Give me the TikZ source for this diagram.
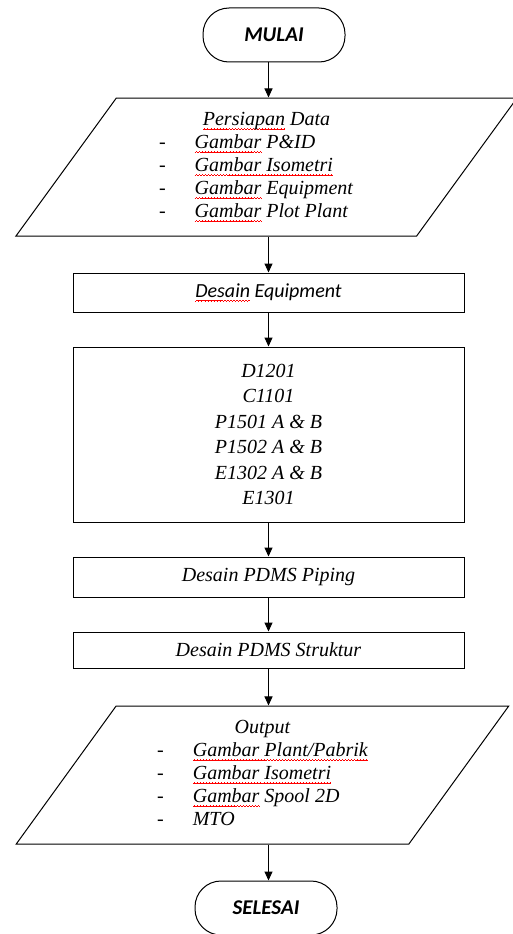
\documentclass[tikz,border=0pt]{standalone}
\usepackage{fontspec}
\setmainfont{Liberation Serif}
\newfontfamily\calibri{Carlito}
\usetikzlibrary{shapes.geometric,arrows.meta}

% red wavy spell-check mark under a word
\newcommand\wavepiece{\hbox{\rule[-4.2pt]{0.75pt}{0.6pt}\rule[-3.6pt]{0.75pt}{0.6pt}\rule[-3pt]{0.75pt}{0.6pt}\rule[-3.6pt]{0.75pt}{0.6pt}}}
\newcommand\spellerr[1]{\setbox0=\hbox{#1}\rlap{\color{red}\hbox to\wd0{\xleaders\wavepiece\hfil}}\box0\relax}

\tikzset{
  terminal/.style={draw, line width=1pt, rounded corners=26pt, minimum width=142pt, minimum height=54pt,
    font=\calibri\bfseries\itshape\fontsize{21}{25}\selectfont},
  process/.style={draw, line width=1pt, minimum width=391pt, font=\itshape\fontsize{20}{23}\selectfont},
  data/.style={draw, line width=1pt, trapezium, trapezium left angle=58, trapezium right angle=122,
    trapezium stretches=true, minimum width=503pt, minimum height=138pt, inner sep=0pt,
    font=\itshape\fontsize{20}{23}\selectfont},
  flow/.style={-{Triangle[length=9pt,width=8pt]}, line width=1pt}
}

\begin{document}
\begin{tikzpicture}[x=1pt,y=-1pt]

\useasboundingbox (0,0) rectangle (512,934);

\node[terminal] (mulai) at (274,35) {MULAI};

\node[data] (persiapan) at (266.5,167) {\begin{tabular}{@{}l@{\hspace{29pt}}l@{\hspace{21pt}}}
\multicolumn{2}{c}{\spellerr{Persiapan} Data}\\
- & \spellerr{Gambar} P\&ID\\
- & \spellerr{Gambar Isometri}\\
- & \spellerr{Gambar} Equipment\\
- & \spellerr{Gambar} Plot Plant
\end{tabular}};

\node[process, minimum height=39pt] (desequip) at (268.5,292.5) {\calibri\spellerr{Desain} Equipment};

\node[process, minimum height=175pt, align=center, font=\itshape\fontsize{20}{25.5}\selectfont] (equip) at (268.5,434.5)
{D1201\\C1101\\P1501 A \& B\\P1502 A \& B\\E1302 A \& B\\E1301};

\node[process, minimum height=40pt] (piping) at (268.5,577) {Desain PDMS Piping};

\node[process, minimum height=36pt] (struktur) at (268.5,650) {Desain PDMS Struktur};

\node[data, minimum width=495pt] (output) at (262.5,775) {\begin{tabular}{@{}l@{\hspace{29pt}}l@{}}
\multicolumn{2}{c}{Output}\\
- & \spellerr{Gambar Plant/Pabrik}\\
- & \spellerr{Gambar Isometri}\\
- & \spellerr{Gambar} Spool 2D\\
- & MTO
\end{tabular}};

\node[terminal] (selesai) at (266,908) {SELESAI};

\draw[flow] (mulai.south -| equip) -- (persiapan.north -| equip);
\draw[flow] (persiapan.south -| equip) -- (desequip.north -| equip);
\draw[flow] (desequip) -- (equip);
\draw[flow] (equip) -- (piping);
\draw[flow] (piping) -- (struktur);
\draw[flow] (struktur.south -| equip) -- (output.north -| equip);
\draw[flow] (output.south -| equip) -- (selesai.north -| equip);

\end{tikzpicture}
\end{document}
